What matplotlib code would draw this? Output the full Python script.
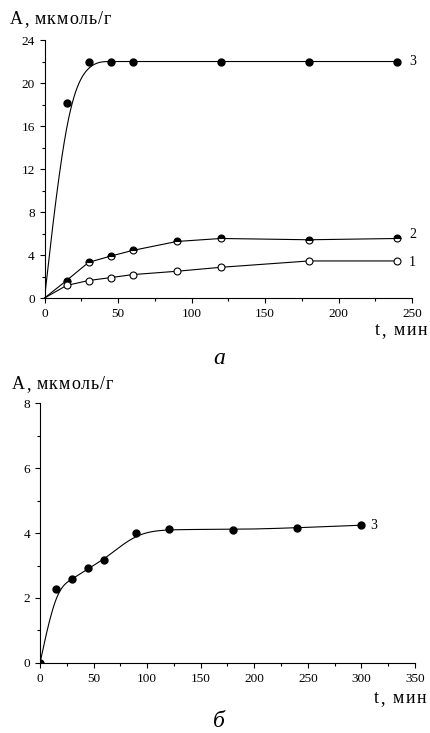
import numpy as np
import matplotlib
matplotlib.use("Agg")
import matplotlib.pyplot as plt
from matplotlib.ticker import MultipleLocator
from matplotlib.font_manager import FontProperties, findfont
from matplotlib.ft2font import FT2Font

plt.rcParams['font.family'] = ['Liberation Serif', 'DejaVu Serif']

# ---- data: panel a ----
t_a = [0, 15, 30, 45, 60, 90, 120, 180, 240]
a_s1 = [0, 1.17, 1.63, 1.90, 2.18, 2.49, 2.86, 3.45, 3.45]
a_s2 = [0, 1.63, 3.32, 3.90, 4.43, 5.26, 5.54, 5.42, 5.54]
t_a3 = [0, 15, 30, 45, 60, 120, 180, 240]
a_s3 = [0, 18.1, 22.0, 22.0, 22.0, 22.0, 22.0, 22.0]

# ---- data: panel b ----
t_b = [0, 15, 30, 45, 60, 90, 120, 180, 240, 300]
b_s3 = [0, 2.29, 2.58, 2.91, 3.18, 4.01, 4.12, 4.10, 4.16, 4.24]

x_label = "t, мин"
y_label = "A, мкмоль/г"

DPI = 100
W, H = 430, 733


def bspline(xs, ys, n=40):
    """Uniform cubic B-spline using data points as control points (clamped)."""
    P = np.column_stack([xs, ys]).astype(float)
    P = np.vstack([P[0], P[0], P, P[-1], P[-1]])
    u = np.linspace(0, 1, n)
    b0 = (1 - u) ** 3 / 6
    b1 = (3 * u ** 3 - 6 * u ** 2 + 4) / 6
    b2 = (-3 * u ** 3 + 3 * u ** 2 + 3 * u + 1) / 6
    b3 = u ** 3 / 6
    out = []
    for i in range(len(P) - 3):
        seg = (np.outer(b0, P[i]) + np.outer(b1, P[i + 1]) +
               np.outer(b2, P[i + 2]) + np.outer(b3, P[i + 3]))
        out.append(seg)
    c = np.vstack(out)
    return c[:, 0], c[:, 1]


fp = FontProperties(family='Liberation Serif')
_font = FT2Font(findfont(fp))


def advances(s, size):
    _font.set_size(size, DPI)
    res = []
    for ch in s:
        g = _font.load_char(ord(ch))
        res.append(g.linearHoriAdvance / 65536.0)
    return res


def spaced_text(fig, x_px, y_px, s, size, spacing, align='left'):
    adv = advances(s, size)
    total = sum(adv) + spacing * (len(s) - 1)
    x = x_px if align == 'left' else x_px - total
    for ch, a in zip(s, adv):
        if ch != ' ':
            fig.text(x / W, 1 - y_px / H, ch, fontsize=size, ha='left',
                     va='baseline', family='Liberation Serif')
        x += a + spacing


fig = plt.figure(figsize=(W / DPI, H / DPI), dpi=DPI)


def style(ax):
    for s in ('top', 'right'):
        ax.spines[s].set_visible(False)
    for s in ('left', 'bottom'):
        ax.spines[s].set_linewidth(0.8)
    ax.tick_params(which='major', direction='out', length=3.5, width=0.8,
                   labelsize=9.5, pad=3.5)
    ax.tick_params(which='minor', direction='out', length=2, width=0.8)


lw = 0.8
ms = 5

# panel a
ax1 = fig.add_axes([0.1035, 0.5934, 0.8547, 0.352])
style(ax1)
cx, cy = bspline(t_a3, a_s3)
ax1.plot(cx, cy, color='black', lw=lw)
ax1.plot(t_a3[1:], a_s3[1:], 'o', color='black', ms=ms, clip_on=False)
ax1.plot(t_a, a_s2, '-o', color='black', lw=lw, ms=ms, fillstyle='top',
         markerfacecolor='black', markerfacecoloralt='white',
         markeredgecolor='black', markeredgewidth=0.8, markevery=slice(1, None),
         clip_on=False)
ax1.plot(t_a, a_s1, '-o', color='black', lw=lw, ms=ms,
         markerfacecolor='white', markeredgecolor='black',
         markeredgewidth=0.8, markevery=slice(1, None), clip_on=False)
ax1.set_xlim(0, 250)
ax1.set_ylim(0, 24)
ax1.xaxis.set_major_locator(MultipleLocator(50))
ax1.xaxis.set_minor_locator(MultipleLocator(25))
ax1.yaxis.set_major_locator(MultipleLocator(4))
ax1.yaxis.set_minor_locator(MultipleLocator(2))
ax1.text(t_a3[-1] + 8, a_s3[-1], "3", fontsize=10, va='center', ha='left')
ax1.text(t_a[-1] + 8, a_s2[-1] + 0.35, "2", fontsize=10, va='center', ha='left')
ax1.text(t_a[-1] + 8, a_s1[-1] - 0.1, "1", fontsize=10, va='center', ha='left')

# panel b
ax2 = fig.add_axes([0.093, 0.0955, 0.872, 0.3547])
style(ax2)
cx, cy = bspline(t_b, b_s3)
ax2.plot(cx, cy, color='black', lw=lw)
ax2.plot(t_b, b_s3, 'o', color='black', ms=ms, clip_on=True)
ax2.set_xlim(0, 350)
ax2.set_ylim(0, 8)
ax2.xaxis.set_major_locator(MultipleLocator(50))
ax2.xaxis.set_minor_locator(MultipleLocator(25))
ax2.yaxis.set_major_locator(MultipleLocator(2))
ax2.yaxis.set_minor_locator(MultipleLocator(1))
ax2.text(t_b[-1] + 8, b_s3[-1], "3", fontsize=10, va='center', ha='left')

# axis labels (slightly letter-spaced, as in the original)
spaced_text(fig, 10, 24, y_label, 13, 0.9, 'left')
spaced_text(fig, 427, 335, x_label, 13, 1.5, 'right')
spaced_text(fig, 12, 389, y_label, 13, 0.9, 'left')
spaced_text(fig, 426, 703, x_label, 13, 1.5, 'right')

fig.text(219 / W, 1 - 364 / H, "а", fontsize=17, style='italic',
         ha='center', va='baseline')
fig.text(219 / W, 1 - 727 / H, "б", fontsize=17, style='italic',
         ha='center', va='baseline')

fig.savefig("out.png", dpi=DPI)
